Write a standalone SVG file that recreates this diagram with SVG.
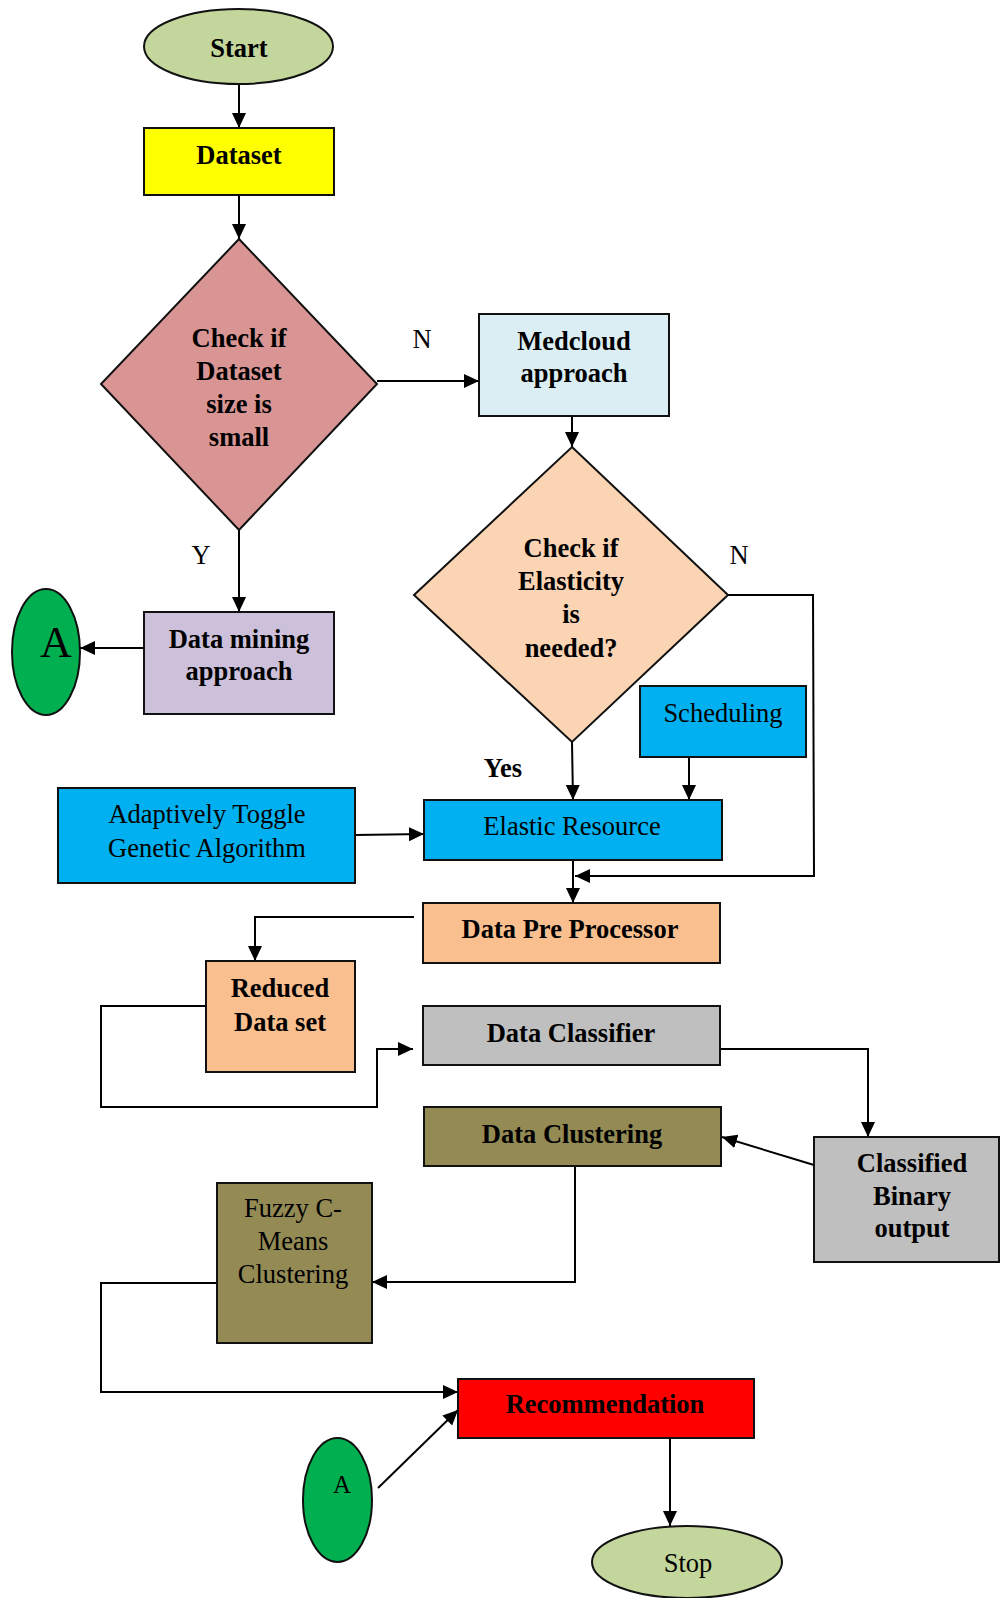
<svg xmlns="http://www.w3.org/2000/svg" width="1000" height="1598" viewBox="0 0 1000 1598">
  <defs>
    <marker id="arrow" markerUnits="userSpaceOnUse" markerWidth="16" markerHeight="15" refX="15" refY="7" orient="auto">
      <path d="M0,0 L15,7 L0,14 z" fill="#000"/>
    </marker>
    <style>
      .shape { stroke: #111; stroke-width: 2; }
      .t { font-family: "Liberation Serif", "Times New Roman", serif; font-size: 26.5px; fill: #000; text-anchor: middle; }
      .b { font-weight: bold; }
      .conn path, .conn line { fill: none; stroke: #000; stroke-width: 2; }
      .arr { marker-end: url(#arrow); }
    </style>
  </defs>

  <rect width="1000" height="1598" fill="#fff"/>

  <!-- connectors -->
  <g class="conn">
    <line class="arr" x1="239" y1="84" x2="239" y2="128"/>
    <line class="arr" x1="239" y1="195" x2="239" y2="239"/>
    <line class="arr" x1="377" y1="381" x2="479" y2="381"/>
    <line class="arr" x1="239" y1="530" x2="239" y2="612"/>
    <line class="arr" x1="144" y1="648" x2="80" y2="648"/>
    <line class="arr" x1="572" y1="416" x2="572" y2="447"/>
    <line class="arr" x1="572" y1="742" x2="573" y2="800"/>
    <line class="arr" x1="689" y1="757" x2="689" y2="800"/>
    <path class="arr" d="M728,595 L813,595 L814,876 L575,876"/>
    <line class="arr" x1="355" y1="835" x2="424" y2="834"/>
    <line class="arr" x1="573" y1="860" x2="573" y2="903"/>
    <path class="arr" d="M414,917 L255,917 L255,961"/>
    <path class="arr" d="M206,1006 L101,1006 L101,1107 L377,1107 L377,1049 L413,1049"/>
    <path class="arr" d="M721,1049 L868,1049 L868,1137"/>
    <line class="arr" x1="814" y1="1165" x2="722" y2="1137"/>
    <path class="arr" d="M575,1166 L575,1282 L372,1282"/>
    <path class="arr" d="M217,1283 L101,1283 L101,1392 L458,1392"/>
    <line class="arr" x1="378" y1="1488" x2="458" y2="1410"/>
    <line class="arr" x1="670" y1="1438" x2="670" y2="1526"/>
  </g>

  <!-- edge labels -->
  <g id="labels">
    <text class="t" x="422" y="348">N</text>
    <text class="t" x="739" y="564">N</text>
    <text class="t" x="201" y="564">Y</text>
    <text class="t b" x="503" y="777">Yes</text>
  </g>

  <g id="start">
    <ellipse class="shape" cx="238.5" cy="46.5" rx="94.5" ry="37.5" fill="#C3D69B"/>
    <text class="t b" x="239" y="57">Start</text>
  </g>

  <g id="dataset">
    <rect class="shape" x="144" y="128" width="190" height="67" fill="#FFFF00"/>
    <text class="t b" x="239" y="164">Dataset</text>
  </g>

  <g id="check-size">
    <polygon class="shape" points="239,239 377,384 239,530 101,384" fill="#D99594"/>
    <text class="t b" x="239" y="347">Check if</text>
    <text class="t b" x="239" y="380">Dataset</text>
    <text class="t b" x="239" y="413">size is</text>
    <text class="t b" x="239" y="446">small</text>
  </g>

  <g id="medcloud">
    <rect class="shape" x="479" y="314" width="190" height="102" fill="#DAEEF3"/>
    <text class="t b" x="574" y="350">Medcloud</text>
    <text class="t b" x="574" y="382">approach</text>
  </g>

  <g id="check-elasticity">
    <polygon class="shape" points="572,447 728,595 572,742 414,595" fill="#FBD4B4"/>
    <text class="t b" x="571" y="557">Check if</text>
    <text class="t b" x="571" y="590">Elasticity</text>
    <text class="t b" x="571" y="623">is</text>
    <text class="t b" x="571" y="657">needed?</text>
  </g>

  <g id="data-mining">
    <rect class="shape" x="144" y="612" width="190" height="102" fill="#CCC0DA"/>
    <text class="t b" x="239" y="648">Data mining</text>
    <text class="t b" x="239" y="680">approach</text>
  </g>

  <g id="connector-a1">
    <ellipse class="shape" cx="46" cy="652" rx="34" ry="63" fill="#00B050"/>
    <text class="t" x="56" y="657" style="font-size:44px">A</text>
  </g>

  <g id="scheduling">
    <rect class="shape" x="640" y="686" width="166" height="71" fill="#00B0F0"/>
    <text class="t" x="723" y="722">Scheduling</text>
  </g>

  <g id="atga">
    <rect class="shape" x="58" y="788" width="297" height="95" fill="#00B0F0"/>
    <text class="t" x="207" y="823">Adaptively Toggle</text>
    <text class="t" x="207" y="857">Genetic Algorithm</text>
  </g>

  <g id="elastic-resource">
    <rect class="shape" x="424" y="800" width="298" height="60" fill="#00B0F0"/>
    <text class="t" x="572" y="835">Elastic Resource</text>
  </g>

  <g id="pre-processor">
    <rect class="shape" x="423" y="903" width="297" height="60" fill="#FABF8F"/>
    <text class="t b" x="570" y="938">Data Pre Processor</text>
  </g>

  <g id="reduced">
    <rect class="shape" x="206" y="961" width="149" height="111" fill="#FABF8F"/>
    <text class="t b" x="280" y="997">Reduced</text>
    <text class="t b" x="280" y="1031">Data set</text>
  </g>

  <g id="classifier">
    <rect class="shape" x="423" y="1006" width="297" height="59" fill="#BFBFBF"/>
    <text class="t b" x="571" y="1042">Data Classifier</text>
  </g>

  <g id="classified-output">
    <rect class="shape" x="814" y="1137" width="185" height="125" fill="#BFBFBF"/>
    <text class="t b" x="912" y="1172">Classified</text>
    <text class="t b" x="912" y="1205">Binary</text>
    <text class="t b" x="912" y="1237">output</text>
  </g>

  <g id="clustering">
    <rect class="shape" x="424" y="1107" width="297" height="59" fill="#948A54"/>
    <text class="t b" x="572" y="1143">Data Clustering</text>
  </g>

  <g id="fuzzy">
    <rect class="shape" x="217" y="1183" width="155" height="160" fill="#948A54"/>
    <text class="t" x="293" y="1217">Fuzzy C-</text>
    <text class="t" x="293" y="1250">Means</text>
    <text class="t" x="293" y="1283">Clustering</text>
  </g>

  <g id="recommendation">
    <rect class="shape" x="458" y="1379" width="296" height="59" fill="#FF0000"/>
    <text class="t b" x="605" y="1413">Recommendation</text>
  </g>

  <g id="connector-a2">
    <ellipse class="shape" cx="337.5" cy="1500" rx="34.5" ry="62" fill="#00B050"/>
    <text class="t" x="342" y="1493" style="font-size:25px">A</text>
  </g>

  <g id="stop">
    <ellipse class="shape" cx="687" cy="1562" rx="95" ry="36" fill="#C3D69B"/>
    <text class="t" x="688" y="1572">Stop</text>
  </g>
</svg>
